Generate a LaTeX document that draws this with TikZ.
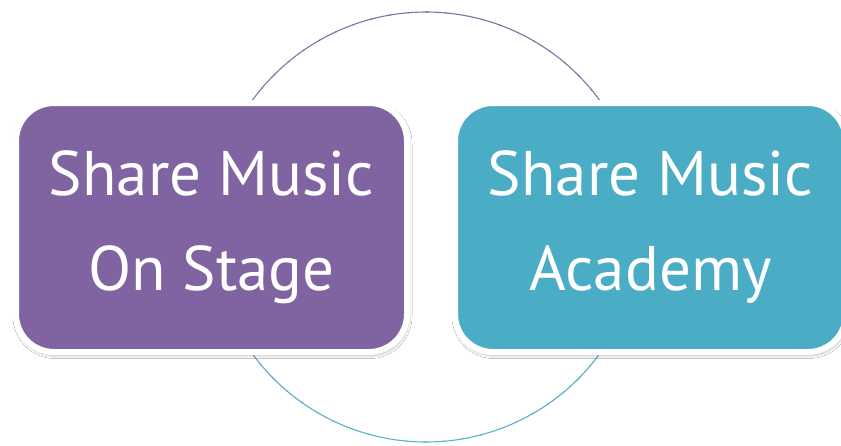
\documentclass[tikz,border=0pt]{standalone}
\usepackage{fontspec}
\setmainfont{PT Sans}
\usetikzlibrary{shadows.blur}
\definecolor{boxpurple}{HTML}{8064A2}
\definecolor{boxteal}{HTML}{4BACC6}
\definecolor{ringpurple}{HTML}{7E72A0}
\definecolor{ringteal}{HTML}{5AB4CC}
\begin{document}
\begin{tikzpicture}[x=1pt,y=-1pt,
  card/.style={rounded corners=38pt, draw=white, line width=6pt,
    minimum width=391pt, minimum height=249pt, text=white,
    font=\fontsize{63}{95}\selectfont, align=center,
    blur shadow={shadow xshift=1pt, shadow yshift=-2.5pt, shadow blur radius=4pt, shadow blur steps=8, shadow opacity=40}},
  ring/.style={line width=1.1pt}]
\useasboundingbox (0,0) rectangle (841,445);
\clip (0,0) rectangle (841,445);
\fill[white] (0,0) rectangle (841,445);
\coordinate (ringc) at (426,227);
\foreach \a in {0,5,...,355} {
  \pgfmathsetmacro\p{(1+sin(\a+2.5))*50}
  \draw[ring, color=ringteal!\p!ringpurple] ([shift={(\a:215)}]ringc) arc[start angle=\a, end angle=\a+5.5, radius=215];
}
\node[card, fill=boxpurple] (stage) at (211.5,227.5) {Share Music\\On Stage};
\node[card, fill=boxteal] (academy) at (650.5,227.5) {Share Music\\Academy};
\end{tikzpicture}
\end{document}
